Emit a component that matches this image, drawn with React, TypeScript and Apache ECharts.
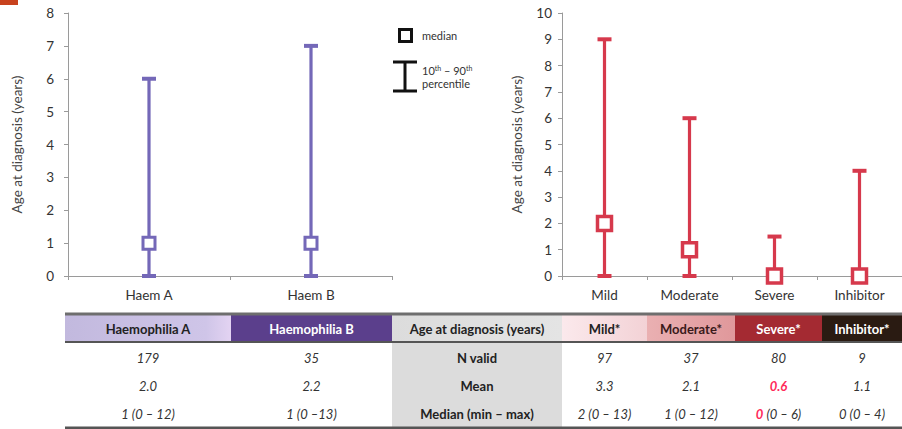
import React, { useEffect, useRef } from "react";
import * as echarts from "echarts";

const leftCategories = ["Haem A", "Haem B"];
const leftP10 = [0, 0];
const leftMedian = [1, 1];
const leftP90 = [6, 7];

const rightCategories = ["Mild", "Moderate", "Severe", "Inhibitor"];
const rightP10 = [0, 0, 0, 0];
const rightMedian = [2, 1, 0, 0];
const rightP90 = [9, 6, 1.5, 4];

const tableHeaders = ["Haemophilia A", "Haemophilia B", "Age at diagnosis (years)", "Mild*", "Moderate*", "Severe*", "Inhibitor*"];
const rowLabels = ["N valid", "Mean", "Median (min \u2013 max)"];
const nValid = ["179", "35", "97", "37", "80", "9"];
const meanValues = ["2.0", "2.2", "3.3", "2.1", "0.6", "1.1"];
const medianRange = ["1 (0 \u2013 12)", "1 (0 \u201313)", "2 (0 \u2013 13)", "1 (0 \u2013 12)", "0 (0 \u2013 6)", "0 (0 \u2013 4)"];

const PURPLE = "#7468b8";
const RED = "#d6394c";
const FONT = "Lato, 'Open Sans', sans-serif";

export default function App() {
  const ref = useRef<HTMLDivElement>(null);
  useEffect(() => {
    if (!ref.current) return;
    const chart = echarts.init(ref.current, null, { renderer: "svg" });

    const errRender = (color: string) => (params: any, api: any) => {
      const x = api.value(0);
      const lo = api.coord([x, api.value(1)]);
      const hi = api.coord([x, api.value(2)]);
      const cw = 7;
      const st = { stroke: color, lineWidth: 3.2 };
      const cap = { stroke: color, lineWidth: 4 };
      return {
        type: "group",
        children: [
          { type: "line", shape: { x1: lo[0], y1: lo[1], x2: hi[0], y2: hi[1] }, style: st },
          { type: "line", shape: { x1: lo[0] - cw, y1: lo[1], x2: lo[0] + cw, y2: lo[1] }, style: cap },
          { type: "line", shape: { x1: hi[0] - cw, y1: hi[1], x2: hi[0] + cw, y2: hi[1] }, style: cap },
        ],
      };
    };

    const axisLine = { lineStyle: { color: "#9a9a9a", width: 1 } };
    const axisLabel = { color: "#333", fontSize: 13.5, fontFamily: FONT };
    const nameStyle = { color: "#444", fontSize: 13.5, fontFamily: FONT };

    const cols = [
      { x: 65, w: 166 },
      { x: 231, w: 161 },
      { x: 392, w: 170 },
      { x: 562, w: 85 },
      { x: 647, w: 88 },
      { x: 735, w: 87 },
      { x: 822, w: 80 },
    ];
    const headerFills: any[] = [
      new echarts.graphic.LinearGradient(0, 0, 1, 0, [
        { offset: 0, color: "#c2b9de" },
        { offset: 0.85, color: "#cfc5e8" },
        { offset: 1, color: "#e3d3f2" },
      ]),
      "#5b3f8c",
      new echarts.graphic.LinearGradient(0, 0, 1, 0, [
        { offset: 0, color: "#dcdcdc" },
        { offset: 1, color: "#e4e4e4" },
      ]),
      new echarts.graphic.LinearGradient(0, 0, 1, 0, [
        { offset: 0, color: "#fbe9ec" },
        { offset: 1, color: "#f3d2d6" },
      ]),
      new echarts.graphic.LinearGradient(0, 0, 1, 0, [
        { offset: 0, color: "#eab0b2" },
        { offset: 1, color: "#e0989b" },
      ]),
      "#a42a32",
      "#2a1b12",
    ];
    const headerText = ["#222", "#fff", "#222", "#222", "#3a1a1a", "#fff", "#fff"];
    const headTop = 315;
    const headBot = 342;
    const rowY = [358, 386, 414];
    const tableBottom = 427;

    const g: any[] = [];
    g.push({ type: "rect", shape: { x: 0, y: 0, width: 18, height: 5 }, style: { fill: "#c8421e" } });

    g.push({ type: "rect", shape: { x: cols[2].x, y: headBot, width: cols[2].w, height: tableBottom - headBot }, style: { fill: "#dcdcdc" } });
    cols.forEach((c, i) => {
      g.push({ type: "rect", shape: { x: c.x, y: headTop, width: c.w, height: headBot - headTop }, style: { fill: headerFills[i] } });
      g.push({
        type: "text",
        x: c.x + c.w / 2,
        y: (headTop + headBot) / 2,
        style: {
          text: tableHeaders[i],
          fill: headerText[i],
          font: `bold 13px ${FONT}`,
          align: "center",
          verticalAlign: "middle",
        },
      });
    });
    g.push({ type: "line", shape: { x1: 65, y1: headTop - 1, x2: 902, y2: headTop - 1 }, style: { stroke: "#6e6e6e", lineWidth: 3 } });
    g.push({ type: "line", shape: { x1: 65, y1: headBot, x2: 902, y2: headBot }, style: { stroke: "#555", lineWidth: 2 } });
    g.push({ type: "line", shape: { x1: 65, y1: tableBottom + 1, x2: 902, y2: tableBottom + 1 }, style: { stroke: "#555", lineWidth: 3 } });

    rowLabels.forEach((lab, r) => {
      g.push({
        type: "text",
        x: cols[2].x + cols[2].w / 2,
        y: rowY[r],
        style: { text: lab, fill: "#222", font: `bold 13px ${FONT}`, align: "center", verticalAlign: "middle" },
      });
    });
    const valueCols = [0, 1, 3, 4, 5, 6];
    const rows = [nValid, meanValues, medianRange];
    rows.forEach((vals, r) => {
      vals.forEach((v, k) => {
        const c = cols[valueCols[k]];
        const severe = valueCols[k] === 5;
        let style: any = { text: v, fill: "#333", font: `italic 13px ${FONT}`, align: "center", verticalAlign: "middle" };
        if (severe && r === 1) {
          style = { ...style, fill: "#ff2a5a", font: `italic bold 13px ${FONT}` };
        } else if (severe && r === 2) {
          const first = v.slice(0, 1);
          const rest = v.slice(1);
          style = {
            text: `{r|${first}}{n|${rest}}`,
            align: "center",
            verticalAlign: "middle",
            rich: {
              r: { fill: "#ff2a5a", font: `italic bold 13px ${FONT}` },
              n: { fill: "#333", font: `italic 13px ${FONT}` },
            },
          };
        }
        g.push({ type: "text", x: c.x + c.w / 2, y: rowY[r], style });
      });
    });

    // legend
    g.push({ type: "rect", shape: { x: 399.5, y: 29.5, width: 12, height: 12 }, style: { fill: "#fff", stroke: "#111", lineWidth: 3 } });
    g.push({ type: "text", x: 422, y: 35, style: { text: "median", fill: "#333", font: `11px ${FONT}`, verticalAlign: "middle" } });
    g.push({ type: "line", shape: { x1: 405, y1: 62, x2: 405, y2: 91 }, style: { stroke: "#111", lineWidth: 3 } });
    g.push({ type: "line", shape: { x1: 393, y1: 62, x2: 417, y2: 62 }, style: { stroke: "#111", lineWidth: 3 } });
    g.push({ type: "line", shape: { x1: 393, y1: 91, x2: 417, y2: 91 }, style: { stroke: "#111", lineWidth: 3 } });
    g.push({
      type: "text",
      x: 422,
      y: 70,
      style: {
        text: "10{s|th} \u2013 90{s|th}",
        fill: "#333",
        font: `11px ${FONT}`,
        verticalAlign: "middle",
        rich: { s: { fill: "#333", font: `7px ${FONT}`, verticalAlign: "top", padding: [0, 0, 5, 0] } },
      },
    });
    g.push({ type: "text", x: 422, y: 83, style: { text: "percentile", fill: "#333", font: `11px ${FONT}`, verticalAlign: "middle" } });

    chart.setOption({
      animation: false,
      grid: [
        { left: 68, top: 13, width: 324, height: 263 },
        { left: 562, top: 13, width: 348, height: 263 },
      ],
      xAxis: [
        {
          type: "category",
          gridIndex: 0,
          data: leftCategories,
          axisLine,
          axisTick: { show: true, length: 4, lineStyle: { color: "#9a9a9a" } },
          axisLabel: { ...axisLabel, margin: 12 },
        },
        {
          type: "category",
          gridIndex: 1,
          data: rightCategories,
          axisLine,
          axisTick: { show: true, length: 4, lineStyle: { color: "#9a9a9a" } },
          axisLabel: { ...axisLabel, margin: 12 },
        },
      ],
      yAxis: [
        {
          type: "value",
          gridIndex: 0,
          min: 0,
          max: 8,
          interval: 1,
          axisLine: { show: true, ...axisLine },
          axisTick: { show: true, length: 4, lineStyle: { color: "#9a9a9a" } },
          splitLine: { show: false },
          axisLabel: { ...axisLabel, margin: 14 },
          name: "Age at diagnosis (years)",
          nameLocation: "middle",
          nameGap: 44,
          nameTextStyle: nameStyle,
        },
        {
          type: "value",
          gridIndex: 1,
          min: 0,
          max: 10,
          interval: 1,
          axisLine: { show: true, ...axisLine },
          axisTick: { show: true, length: 4, lineStyle: { color: "#9a9a9a" } },
          splitLine: { show: false },
          axisLabel: { ...axisLabel, margin: 10 },
          name: "Age at diagnosis (years)",
          nameLocation: "middle",
          nameGap: 38,
          nameTextStyle: nameStyle,
        },
      ],
      series: [
        {
          type: "custom",
          xAxisIndex: 0,
          yAxisIndex: 0,
          renderItem: errRender(PURPLE),
          data: leftCategories.map((_, i) => [i, leftP10[i], leftP90[i]]),
          z: 2,
        },
        {
          type: "scatter",
          xAxisIndex: 0,
          yAxisIndex: 0,
          symbol: "rect",
          symbolSize: 12,
          itemStyle: { color: "#fff", borderColor: PURPLE, borderWidth: 3, opacity: 1 },
          data: leftCategories.map((_, i) => [i, leftMedian[i]]),
          z: 3,
        },
        {
          type: "custom",
          xAxisIndex: 1,
          yAxisIndex: 1,
          renderItem: errRender(RED),
          data: rightCategories.map((_, i) => [i, rightP10[i], rightP90[i]]),
          z: 2,
        },
        {
          type: "scatter",
          xAxisIndex: 1,
          yAxisIndex: 1,
          symbol: "rect",
          symbolSize: 14,
          itemStyle: { color: "#fff", borderColor: RED, borderWidth: 3.5, opacity: 1 },
          data: rightCategories.map((_, i) => [i, rightMedian[i]]),
          z: 3,
        },
      ],
      graphic: g,
    });
    return () => chart.dispose();
  }, []);
  return <div ref={ref} style={{ position: "fixed", left: 0, top: 0, width: 902, height: 429, background: "#fff" }} />;
}
